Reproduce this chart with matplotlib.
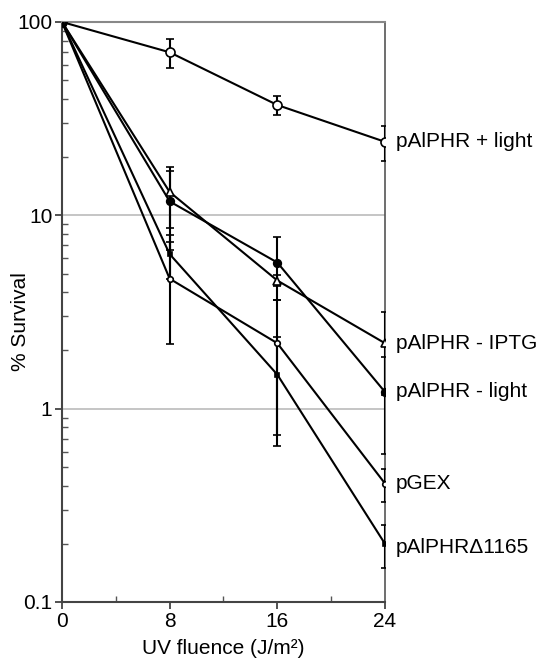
import matplotlib
matplotlib.use("Agg")
import matplotlib.pyplot as plt
from matplotlib.ticker import NullFormatter, LogLocator

plt.rcParams['font.family'] = ['Liberation Sans', 'DejaVu Sans']

fluence = [0, 8, 16, 24]
labels = ["pAlPHR + light", "pAlPHR - IPTG", "pAlPHR - light", "pGEX", "pAlPHR\u03941165"]
plus_light = [100, 69.7, 37.2, 24.0]
plus_light_err = [0, 12, 4, 5]
minus_iptg = [100, 13.2, 4.6, 2.18]
minus_iptg_err = [0, 4.6, 0.3, 1.0]
minus_light = [100, 11.8, 5.7, 1.22]
minus_light_err = [0, 5.2, 2.05, 0.64]
pgex = [100, 4.7, 2.18, 0.41]
pgex_err = [0, 2.55, 1.45, 0.08]
delta1165 = [100, 6.3, 1.5, 0.20]
delta1165_err = [0, 1.6, 0.86, 0.05]

series = [
    (plus_light, plus_light_err, dict(marker='o', mfc='white', ms=6.5)),
    (minus_iptg, minus_iptg_err, dict(marker='^', mfc='white', ms=5.5)),
    (minus_light, minus_light_err, dict(marker='o', mfc='black', ms=5.5)),
    (pgex, pgex_err, dict(marker='o', mfc='white', ms=4)),
    (delta1165, delta1165_err, dict(marker='s', mfc='black', ms=3)),
]
label_offsets = [0, 0, 0, 0, -3]

fig = plt.figure(figsize=(5.41, 6.66), dpi=100)
ax = fig.add_axes([0.1146, 0.0961, 0.5970, 0.8709])

for (vals, err, st), lab, off in zip(series, labels, label_offsets):
    ax.errorbar(fluence, vals, yerr=err, color='black', lw=1.5, capsize=3,
                capthick=1.5, elinewidth=1.5, mec='black', mew=1.2, zorder=3, **st)
    ax.annotate(lab, xy=(fluence[-1], vals[-1]), xytext=(8, off),
                textcoords='offset points', va='center', ha='left',
                fontsize=15, annotation_clip=False)

ax.set_yscale('log')
ax.set_ylim(0.1, 100)
ax.set_xlim(0, 24)
ax.set_xticks([0, 8, 16, 24])
ax.set_xticks([4, 12, 20], minor=True)
ax.set_yticks([0.1, 1, 10, 100])
ax.set_yticklabels(['0.1', '1', '10', '100'])
ax.yaxis.set_minor_locator(LogLocator(base=10, subs=range(2, 10)))
ax.yaxis.set_minor_formatter(NullFormatter())
ax.tick_params(axis='both', which='major', direction='out', length=5, width=1.2,
               labelsize=15, colors='#333333', labelcolor='black', pad=2)
ax.tick_params(axis='both', which='minor', direction='in', length=4, width=1.0,
               colors='#555555')
ax.grid(True, axis='y', which='major', color='#bbbbbb', lw=1.2)
for s in ['left', 'bottom']:
    ax.spines[s].set_color('#444444')
    ax.spines[s].set_linewidth(1.5)
ax.spines['top'].set_color('#888888')
ax.spines['top'].set_linewidth(1.5)
ax.spines['right'].set_color('#555555')
ax.spines['right'].set_linewidth(1.2)

ax.set_xlabel('UV fluence (J/m\u00b2)', fontsize=15, labelpad=6)
ax.set_ylabel('% Survival', fontsize=15)
ax.yaxis.set_label_coords(-0.099, 0.483)

fig.savefig('out.png', dpi=100)
